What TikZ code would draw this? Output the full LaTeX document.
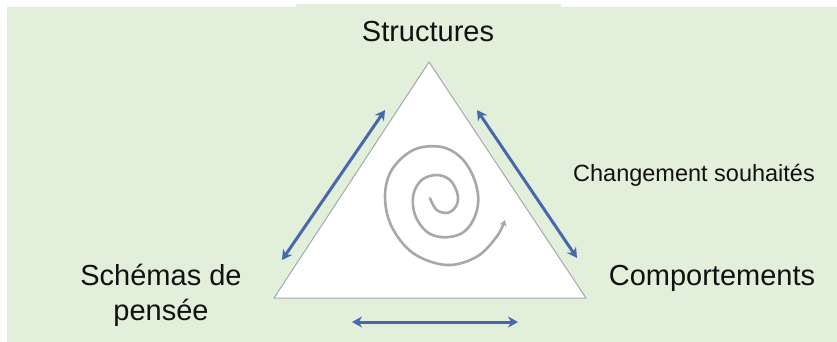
\documentclass[tikz,border=0pt]{standalone}
\usepackage{fontspec}
\setmainfont{Liberation Sans}
\usetikzlibrary{arrows.meta}
\definecolor{cycGreen}{HTML}{E2EFDA}
\definecolor{cycBlue}{HTML}{4868AE}
\definecolor{cycGrey}{HTML}{A8A8A8}
\definecolor{cycEdge}{HTML}{A3A8B0}
\definecolor{cycInk}{HTML}{111111}

\begin{document}
\begin{tikzpicture}[x=1pt,y=-1pt,>=Stealth,line cap=round,line join=round]
\path[fill=white] (0,0) rectangle (837,342);
\path[fill=cycGreen] (7,7) -- (296,7) -- (296,4) -- (561,4) -- (561,7) -- (837,7) -- (837,342) -- (7,342) -- cycle;
\tikzset{lbl/.style={text=cycInk,font=\fontsize{29}{35}\selectfont,inner sep=0pt,anchor=base},small/.style={text=cycInk,font=\fontsize{23.5}{28}\selectfont,inner sep=0pt,anchor=base},link/.style={draw=cycBlue,line width=3pt,{Stealth[length=10pt,width=11pt]}-{Stealth[length=10pt,width=11pt]}},spiralline/.style={draw=cycGrey,line width=2.6pt,-{Stealth[length=6pt,width=7pt]}}}
% triangle
\coordinate (apex) at (429,62);
\coordinate (left) at (274,298);
\coordinate (right) at (586,298);
\path[fill=white,draw=cycEdge,line width=1pt] (apex) -- (right) -- (left) -- cycle;
% spiral
\draw[spiralline] plot[smooth,tension=0.6] coordinates {(430,198.3) (436.7,210) (448.3,212.7) (456.7,205) (457.3,193.3) (450,180) (436.7,175) (421.7,180) (413.3,195) (415,215) (426.7,231.7) (443.3,237.3) (461.7,233.3) (473.3,220) (478.3,200) (473.3,176.7) (460,156.7) (440,146.7) (413.3,150) (391.7,170) (385,196.7) (391.7,226.7) (413.3,253.3) (446.7,265) (476.7,256.7) (496.7,236.7) (505,220)};
% labels
\node[lbl] (struct) at (428,42) {Structures};
\node[lbl,align=center] (schema) at (161,320) {Schémas de\\pensée};
\node[lbl] (comport) at (712,285) {Comportements};
\node[small] (change) at (694,181) {Changement souhaités};
% arrows along the sides
\coordinate (leftA) at (282,260);
\coordinate (leftB) at (385,110);
\coordinate (rightA) at (477,110);
\coordinate (rightB) at (577,258);
\coordinate (baseA) at (352,322);
\coordinate (baseB) at (518,322);
\draw[link] (leftA) -- (leftB);
\draw[link] (rightA) -- (rightB);
\draw[link] (baseA) -- (baseB);
\end{tikzpicture}
\end{document}
